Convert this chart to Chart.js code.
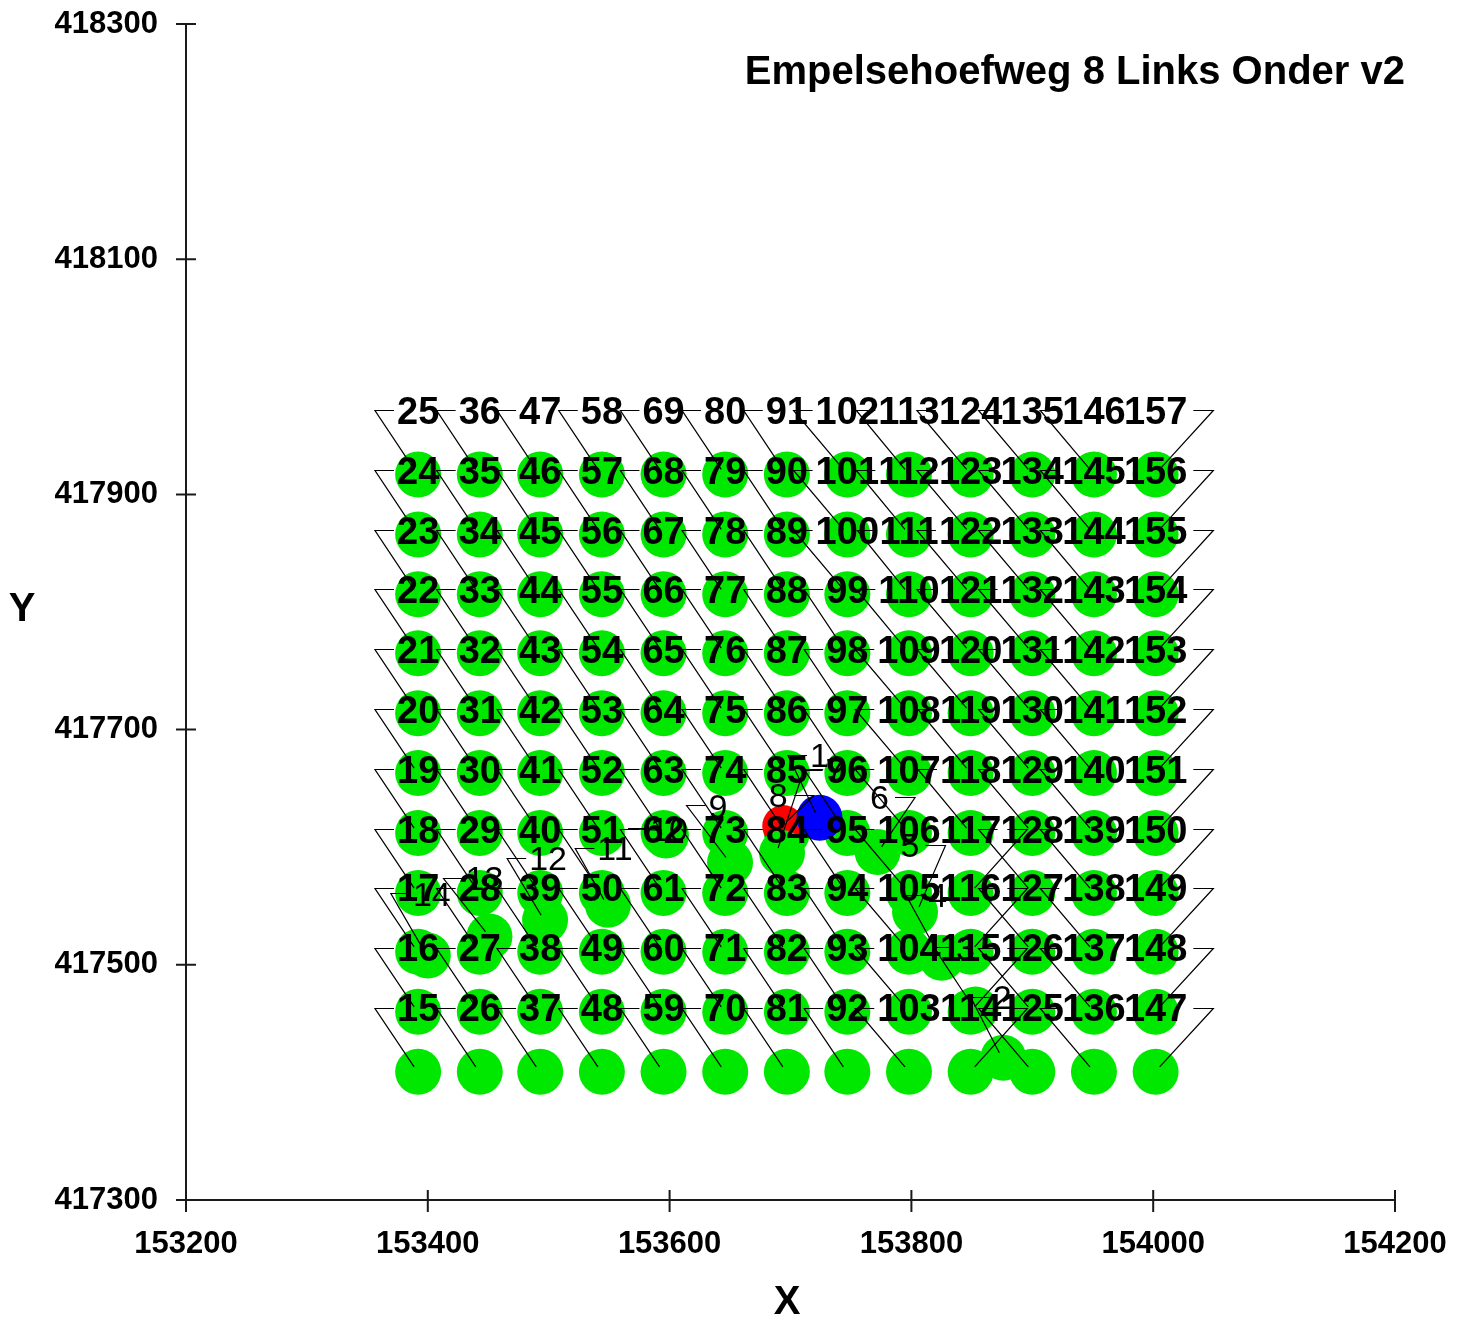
<!DOCTYPE html>
<html>
<head>
<meta charset="utf-8">
<script src="https://cdn.jsdelivr.net/npm/chart.js@4.4.0/dist/chart.umd.min.js"></script>
<style>
  html, body { margin: 0; padding: 0; background: #fff; }
  canvas { display: block; }
</style>
</head>
<body>
<canvas id="kaart" width="1466" height="1321"></canvas>
<script>
// --- data ---
const titel = 'Empelsehoefweg 8 Links Onder v2';
const xTicks = [153200, 153400, 153600, 153800, 154000, 154200];
const yTicks = [417300, 417500, 417700, 417900, 418100, 418300];

// raster van rekenpunten: kolommen (X), rijen (Y) en eerste nummer per kolom
const kolomX = [153392, 153443, 153493, 153544, 153595, 153646, 153697, 153747, 153798, 153849, 153900, 153951, 154002];
const rijY = [417409, 417460, 417511, 417561, 417612, 417663, 417714, 417765, 417815, 417866, 417917];
const eersteNummer = [15, 26, 37, 48, 59, 70, 81, 92, 103, 114, 125, 136, 147];

// losse punten 1..14
const puntNr = [1, 2, 3, 4, 5, 6, 7, 8, 9, 10, 11, 12, 13, 14];
const puntX = [153724, 153876, 153853, 153825, 153803, 153772, 153693, 153694, 153650, 153597, 153549, 153497, 153451, 153400];
const puntY = [417625, 417421, 417462, 417506, 417545, 417596, 417595, 417618, 417587, 417610, 417551, 417538, 417524, 417508];
const blauwNr = [1];
const roodNr = [8];

// --- opmaak van de labels (pixels t.o.v. het punt) ---
const labelVerschuiving = {
    1: [0, -63], 2: [-1, -61], 3: [-10, -62], 4: [-4, -63], 5: [-5, -67], 6: [2, -55], 7: [53, -83],
    8: [-5, -31], 9: [-12, -57], 10: [3, -7], 11: [7, -57], 12: [3, -62], 13: [-5, -59], 14: [4, -62]
};
const rechtsLeider = [114, 115, 116, 117, 147, 148, 149, 150, 151, 152, 153, 154, 155, 156, 157, 5, 6, 8];

const GROEN = '#00E800';
const FONT = "'Liberation Sans', Arial, sans-serif";

const rasterPunten = [];
kolomX.forEach((x, c) => rijY.forEach((y, r) => rasterPunten.push({ x, y, nr: eersteNummer[c] + r })));

const losPunten = puntNr.map((nr, i) => ({ x: puntX[i], y: puntY[i], nr }));

const tekstPlugin = {
    id: 'tekstPlugin',
    afterDatasetsDraw(chart) {
        const ctx = chart.ctx;
        const xs = chart.scales.x, ys = chart.scales.y;
        const area = chart.chartArea;

        // assen met kruisende streepjes
        ctx.save();
        ctx.strokeStyle = '#1a1a1a';
        ctx.lineWidth = 2;
        ctx.beginPath();
        ctx.moveTo(area.left, area.top);
        ctx.lineTo(area.left, area.bottom);
        ctx.lineTo(area.right, area.bottom);
        xTicks.forEach(v => {
            const px = xs.getPixelForValue(v);
            ctx.moveTo(px, area.bottom - 10);
            ctx.lineTo(px, area.bottom + 12);
        });
        yTicks.forEach(v => {
            const py = ys.getPixelForValue(v);
            ctx.moveTo(area.left - 10, py);
            ctx.lineTo(area.left + 10, py);
        });
        ctx.stroke();
        ctx.restore();

        const items = [];
        rasterPunten.forEach(p => items.push({ p, dx: 0, dy: -64, vet: true }));
        losPunten.forEach(p => {
            const o = labelVerschuiving[p.nr];
            items.push({ p, dx: o[0], dy: o[1], vet: false });
        });

        // leiderlijnen
        ctx.save();
        ctx.strokeStyle = '#000';
        ctx.lineWidth = 1.2;
        items.forEach(it => {
            const px = xs.getPixelForValue(it.p.x);
            const py = ys.getPixelForValue(it.p.y);
            ctx.font = (it.vet ? 'bold 38px ' : '34px ') + FONT;
            const w = ctx.measureText(String(it.p.nr)).width;
            const lx = px + it.dx, ly = Math.round(py + it.dy) + 0.5;
            ctx.beginPath();
            if (rechtsLeider.includes(it.p.nr)) {
                const a = lx + w / 2 + 6, b = lx + w / 2 + 26;
                ctx.moveTo(a, ly);
                ctx.lineTo(b, ly);
                ctx.lineTo(px + 4, py - 5);
            } else {
                const a = lx - w / 2 - 3, b = lx - w / 2 - 22;
                ctx.moveTo(a, ly);
                ctx.lineTo(b, ly);
                ctx.lineTo(px - 4, py - 5);
            }
            ctx.stroke();
        });

        // nummers
        ctx.fillStyle = '#000';
        ctx.textAlign = 'center';
        ctx.textBaseline = 'alphabetic';
        items.forEach(it => {
            const px = xs.getPixelForValue(it.p.x);
            const py = ys.getPixelForValue(it.p.y);
            const size = it.vet ? 38 : 34;
            ctx.font = (it.vet ? 'bold ' : '') + size + 'px ' + FONT;
            ctx.fillText(String(it.p.nr), px + it.dx, py + it.dy + 0.358 * size);
        });

        // titel en as-titels
        ctx.font = 'bold 40px ' + FONT;
        ctx.textAlign = 'right';
        ctx.fillText(titel, 1405, 84);
        ctx.textAlign = 'center';
        ctx.fillText('Y', 22, 621);
        ctx.fillText('X', 787, 1314);
        ctx.restore();
    }
};

const ctx = document.getElementById('kaart').getContext('2d');
new Chart(ctx, {
    type: 'scatter',
    data: {
        datasets: [
            {
                label: 'bron',
                data: losPunten.filter(p => blauwNr.includes(p.nr)),
                backgroundColor: '#0000FF',
                pointRadius: 23,
                borderWidth: 0,
                order: 0
            },
            {
                label: 'losse punten',
                data: losPunten.filter(p => !blauwNr.includes(p.nr) && !roodNr.includes(p.nr)),
                backgroundColor: GROEN,
                pointRadius: 23,
                borderWidth: 0,
                order: 1
            },
            {
                label: 'rood',
                data: losPunten.filter(p => roodNr.includes(p.nr)),
                backgroundColor: '#FF0000',
                pointRadius: 21,
                borderWidth: 0,
                order: 2
            },
            {
                label: 'raster',
                data: rasterPunten,
                backgroundColor: GROEN,
                pointRadius: 23,
                borderWidth: 0,
                order: 3
            }
        ]
    },
    options: {
        responsive: false,
        devicePixelRatio: 1,
        animation: false,
        layout: { padding: { top: 24, right: 71, left: 0, bottom: 0 } },
        plugins: {
            legend: { display: false },
            tooltip: { enabled: false }
        },
        scales: {
            x: {
                type: 'linear',
                min: xTicks[0],
                max: xTicks[xTicks.length - 1],
                afterBuildTicks: s => { s.ticks = xTicks.map(v => ({ value: v })); },
                afterFit: s => { s.height = 121; s.paddingLeft = 0; s.paddingRight = 0; },
                grid: { display: false },
                border: { display: false },
                ticks: {
                    color: '#000',
                    padding: 18,
                    maxRotation: 0,
                    font: { family: FONT, size: 31, weight: 'bold' },
                    callback: v => String(v)
                }
            },
            y: {
                type: 'linear',
                min: yTicks[0],
                max: yTicks[yTicks.length - 1],
                afterBuildTicks: s => { s.ticks = yTicks.map(v => ({ value: v })); },
                afterFit: s => { s.width = 186; s.paddingTop = 0; s.paddingBottom = 0; },
                grid: { display: false },
                border: { display: false },
                ticks: {
                    color: '#000',
                    padding: 20,
                    font: { family: FONT, size: 31, weight: 'bold' },
                    callback: v => String(v)
                }
            }
        }
    },
    plugins: [tekstPlugin]
});
</script>
</body>
</html>
